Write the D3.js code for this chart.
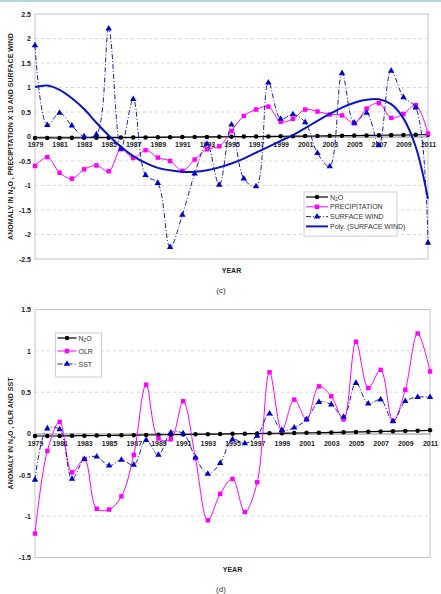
<!DOCTYPE html>
<html>
<head>
<meta charset="utf-8">
<script src="https://cdn.jsdelivr.net/npm/d3@7"></script>
<style>
  body { margin: 0; background: #fff; }
  text { font-family: "Liberation Sans", Arial, sans-serif; }
  .tick text { font-weight: bold; font-size: 7px; fill: #222; }
  .legend text { font-size: 7px; fill: #333; }
</style>
</head>
<body>
<div id="chart"></div>
<script>
var years = d3.range(1979, 2012);
var yearTicks = d3.range(1979, 2012, 2);

var n2o = [-0.03,-0.03,-0.03,-0.028,-0.026,-0.025,-0.024,-0.022,-0.02,-0.018,-0.016,-0.014,-0.012,-0.01,-0.008,-0.006,-0.004,-0.002,0,0.002,0.004,0.006,0.008,0.01,0.013,0.016,0.019,0.022,0.025,0.028,0.031,0.034,0.038];

var precipitation = [-0.60,-0.42,-0.74,-0.86,-0.67,-0.59,-0.71,-0.26,-0.44,-0.28,-0.43,-0.50,-0.70,-0.47,-0.26,-0.20,0.11,0.42,0.55,0.61,0.30,0.36,0.55,0.51,0.45,0.43,0.27,0.57,0.68,0.38,0.46,0.64,0.06];

var surfaceWind = [1.86,0.23,0.48,0.22,0.0,0.04,2.20,-0.25,0.76,-0.79,-0.95,-2.26,-1.60,-0.76,-0.15,-0.99,0.24,-0.86,-1.02,1.10,0.36,0.45,0.29,-0.34,-0.61,1.29,0.28,0.48,-0.18,1.34,0.80,0.59,-2.17];

var windTrend = [1.01,1.04,0.95,0.78,0.56,0.28,0.02,-0.21,-0.40,-0.54,-0.64,-0.69,-0.72,-0.72,-0.69,-0.63,-0.55,-0.45,-0.33,-0.21,-0.09,0.03,0.17,0.32,0.46,0.59,0.69,0.75,0.76,0.66,0.37,-0.21,-1.27];

var olr = [-1.21,-0.21,0.14,-0.47,-0.31,-0.91,-0.92,-0.76,-0.26,0.59,-0.06,-0.07,0.39,-0.30,-1.05,-0.73,-0.55,-0.95,-0.59,0.74,0.04,0.41,0.17,0.57,0.45,0.17,1.11,0.55,0.77,0.15,0.53,1.21,0.75];

var sst = [-0.56,0.06,0.05,-0.55,-0.31,-0.28,-0.39,-0.32,-0.38,-0.08,-0.26,0.01,0.0,-0.29,-0.49,-0.36,-0.07,-0.12,-0.03,0.24,0.04,0.07,0.17,0.38,0.35,0.20,0.61,0.36,0.41,0.15,0.39,0.44,0.44];

var width = 441, height = 594;

var svg = d3.select("#chart").append("svg")
    .attr("width", width)
    .attr("height", height);

// thin teal band at the top of the figure
svg.append("rect").attr("x", 0).attr("y", 0).attr("width", width).attr("height", 2).attr("fill", "#b4d5d5");

function panel(opt) {
    var x = d3.scaleLinear().domain([1979, 2011]).range([opt.left, opt.right]);
    var y = d3.scaleLinear().domain([opt.min, opt.max]).range([opt.bottom, opt.top]);
    var g = svg.append("g");

    // plot border
    g.append("rect")
        .attr("x", opt.left).attr("y", opt.top)
        .attr("width", opt.right - opt.left).attr("height", opt.bottom - opt.top)
        .attr("fill", "none").attr("stroke", "#c4c4c4").attr("stroke-width", 1);

    // gridlines
    g.selectAll(".grid")
        .data(opt.yTicks.filter(function(d) { return d != opt.min && d != opt.max && d != 0; }))
      .enter().append("line")
        .attr("x1", opt.left).attr("x2", opt.right)
        .attr("y1", function(d) { return y(d); }).attr("y2", function(d) { return y(d); })
        .attr("stroke", "#d6d6d6").attr("stroke-dasharray", "3,3");

    g.append("g")
        .attr("transform", "translate(" + opt.left + ",0)")
        .call(d3.axisLeft(y).tickValues(opt.yTicks).tickSize(0).tickPadding(4).tickFormat(function(d) { return String(d); }))
        .call(function(a) { a.select(".domain").remove(); });

    g.append("g")
        .attr("transform", "translate(0," + y(0) + ")")
        .call(d3.axisBottom(x).tickValues(yearTicks).tickSize(0).tickPadding(opt.xPad).tickFormat(d3.format("d")))
        .call(function(a) { a.select(".domain").attr("stroke", "#888"); });

    // series
    opt.series.forEach(function(s) {
        var pts = years.map(function(yr, i) { return [x(yr), y(s.values[i])]; });
        g.append("path")
            .attr("d", d3.line().curve(d3.curveCatmullRom.alpha(0.5))(pts))
            .attr("fill", "none")
            .attr("stroke", s.color)
            .attr("stroke-width", s.width)
            .attr("stroke-dasharray", s.dash || null);
        if (s.marker) {
            g.selectAll(null).data(pts).enter().append("path")
                .attr("transform", function(p) { return "translate(" + p[0] + "," + p[1] + ")"; })
                .attr("d", d3.symbol().type(s.marker).size(s.msize))
                .attr("fill", s.color);
        }
    });

    // axis titles
    g.append("text")
        .attr("x", (opt.left + opt.right) / 2).attr("y", opt.yearY)
        .attr("text-anchor", "middle")
        .attr("font-size", 7).attr("font-weight", "bold").attr("fill", "#222")
        .text("YEAR");

    var yt = g.append("text")
        .attr("transform", "translate(13," + ((opt.top + opt.bottom) / 2) + ") rotate(-90)")
        .attr("text-anchor", "middle")
        .attr("font-size", 7).attr("font-weight", "bold").attr("fill", "#222");
    yt.append("tspan").text("ANOMALY IN N");
    yt.append("tspan").attr("font-size", 5).attr("dy", 2).text("2");
    yt.append("tspan").attr("dy", -2).text("O , " + opt.ylabel);

    g.append("text")
        .attr("x", 221).attr("y", opt.capY)
        .attr("text-anchor", "middle")
        .attr("font-family", "Liberation Serif, serif").attr("font-size", 8).attr("fill", "#333")
        .text(opt.caption);

    // legend
    var lg = g.append("g").attr("class", "legend");
    lg.append("rect")
        .attr("x", opt.leg.x).attr("y", opt.leg.y)
        .attr("width", opt.leg.w).attr("height", opt.series.length * opt.leg.step + 5)
        .attr("fill", "#fff").attr("stroke", "#cfcfcf");
    opt.series.forEach(function(s, i) {
        var ly = opt.leg.y + 5 + opt.leg.step * i;
        lg.append("line")
            .attr("x1", opt.leg.x + 2).attr("x2", opt.leg.x + 2 + opt.leg.line)
            .attr("y1", ly).attr("y2", ly)
            .attr("stroke", s.color).attr("stroke-width", s.width)
            .attr("stroke-dasharray", s.dash || null);
        if (s.marker) {
            lg.append("path")
                .attr("transform", "translate(" + (opt.leg.x + 2 + opt.leg.line / 2) + "," + ly + ")")
                .attr("d", d3.symbol().type(s.marker).size(s.msize))
                .attr("fill", s.color);
        }
        var t = lg.append("text").attr("x", opt.leg.x + 4 + opt.leg.line).attr("y", ly + 2.5);
        if (s.name == "N2O") {
            t.append("tspan").text("N");
            t.append("tspan").attr("font-size", 5).attr("dy", 1.5).text("2");
            t.append("tspan").attr("dy", -1.5).text("O");
        } else {
            t.text(s.name);
        }
    });
}

var n2oStyle = {name: "N2O", values: n2o, color: "#000", width: 1.2, marker: d3.symbolCircle, msize: 16};

panel({
    left: 35, right: 428, top: 14, bottom: 259,
    min: -2.5, max: 2.5,
    yTicks: [-2.5, -2, -1.5, -1, -0.5, 0, 0.5, 1, 1.5, 2, 2.5],
    xPad: 6, yearY: 273, capY: 293, caption: "(c)",
    ylabel: "PRECIPITATION X 10 AND SURFACE WIND",
    leg: {x: 304, y: 192, w: 93, step: 9.8, line: 22},
    series: [
        n2oStyle,
        {name: "PRECIPITATION", values: precipitation, color: "#ff00ff", width: 1, marker: d3.symbolSquare, msize: 20},
        {name: "SURFACE WIND", values: surfaceWind, color: "#0000cc", width: 0.9, dash: "5,2,1,2", marker: d3.symbolTriangle, msize: 18},
        {name: "Poly. (SURFACE WIND)", values: windTrend, color: "#0a14c8", width: 2}
    ]
});

panel({
    left: 35, right: 430, top: 309.5, bottom: 557.5,
    min: -1.5, max: 1.5,
    yTicks: [-1.5, -1, -0.5, 0, 0.5, 1, 1.5],
    xPad: 8, yearY: 572, capY: 592, caption: "(d)",
    ylabel: "OLR AND SST",
    leg: {x: 55.5, y: 333, w: 46, step: 13, line: 19},
    series: [
        n2oStyle,
        {name: "OLR", values: olr, color: "#ff00ff", width: 1, marker: d3.symbolSquare, msize: 20},
        {name: "SST", values: sst, color: "#0000cc", width: 0.9, dash: "5,2,1,2", marker: d3.symbolTriangle, msize: 18}
    ]
});
</script>
</body>
</html>
